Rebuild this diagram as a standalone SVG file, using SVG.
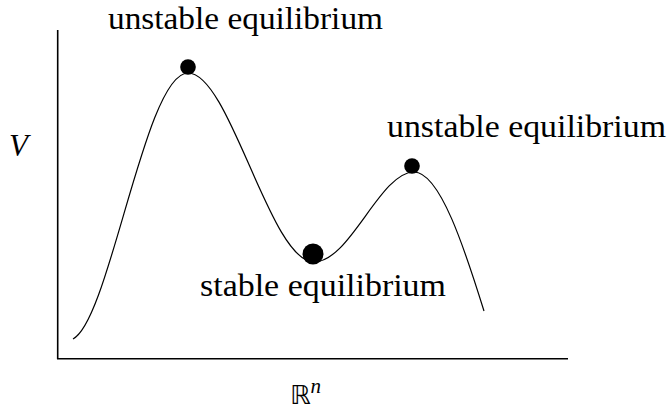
<svg xmlns="http://www.w3.org/2000/svg" width="667" height="411" viewBox="0 0 667 411">
<style>
.axis{stroke:#000;stroke-width:1.6;fill:none}
.curve{stroke:#000;stroke-width:1.2;fill:none}
.dot{fill:#000}
</style>
<rect width="667" height="411" fill="#fff"/>
<g id="axes">
<line class="axis" x1="57.7" y1="30" x2="57.7" y2="359"/>
<line class="axis" x1="57" y1="358.7" x2="568" y2="358.7"/>
</g>
<g id="connectors">
<path class="curve" d="M73,339 C110,320 145,73 188,73 C230,73 270,262 314,262 C350,262 380,172 414,172 C440,172 465,250 484,311"/>
</g>
<g id="node-top">
<circle class="dot" cx="188" cy="67" r="7.8"/>
<text font-family="Liberation Serif" font-size="31" x="108" y="29" textLength="275" lengthAdjust="spacingAndGlyphs">unstable equilibrium</text>
</g>
<g id="node-right">
<circle class="dot" cx="412" cy="166" r="7.8"/>
<text font-family="Liberation Serif" font-size="31" x="387" y="137" textLength="279" lengthAdjust="spacingAndGlyphs">unstable equilibrium</text>
</g>
<g id="node-min">
<circle class="dot" cx="313" cy="254" r="10.5"/>
<text font-family="Liberation Serif" font-size="31" x="200" y="296" textLength="246" lengthAdjust="spacingAndGlyphs">stable equilibrium</text>
</g>
<g id="label-V">
<text font-family="Liberation Serif" x="9" y="156" font-style="italic" font-size="31">V</text>
</g>
<g id="label-R">
<text font-family="Liberation Serif" x="290" y="404" font-size="26"><tspan font-family="DejaVu Sans">ℝ</tspan><tspan dy="-11" font-style="italic" font-size="21">n</tspan></text>
</g>
</svg>
